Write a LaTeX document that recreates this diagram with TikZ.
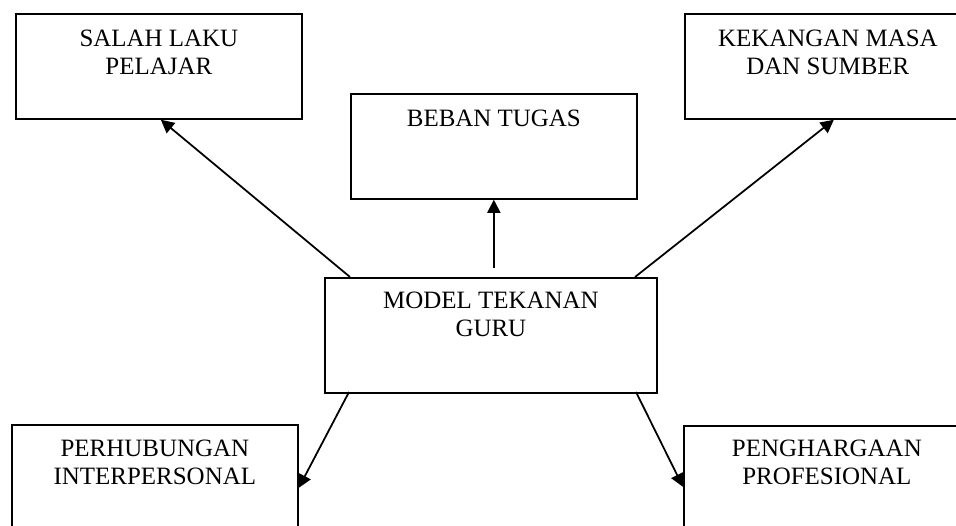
\documentclass[tikz,border=0pt]{standalone}
\usepackage{fontspec}
\setmainfont{Liberation Serif}
\usepackage{tikz}
\usetikzlibrary{positioning, arrows.meta}

\begin{document}
\begin{tikzpicture}[x=0.02cm, y=-0.02cm,
	box/.style={draw, line width=1pt, minimum width=5.72cm, minimum height=2.1cm, inner sep=0pt, anchor=north west},
	lbl/.style={inner sep=0pt, align=center, font=\fontsize{14.2}{16}\selectfont},
	arr/.style={line width=1pt, -{Triangle[length=7.5pt, width=7.5pt]}}]
		\useasboundingbox (0,0) rectangle (956,525);
		\clip (0,0) rectangle (956,525);
		
		\node [box] (pelajar) at (15,13) {};
		\node [box] (beban) at (350,93) {};
		\node [box] (masa) at (684,13) {};
		\node [box, minimum width=6.64cm, minimum height=2.3cm] (guru) at (324,277) {};
		\node [box] (interpersonal) at (11,424) {};
		\node [box] (profesional) at (683,425) {};
		
		\node [lbl, below=0.34cm of pelajar.north] (pelajarT) {SALAH LAKU\\PELAJAR};
		\node [lbl, below=0.34cm of beban.north] (bebanT) {BEBAN TUGAS};
		\node [lbl, below=0.34cm of masa.north] (masaT) {KEKANGAN MASA\\DAN SUMBER};
		\node [lbl, below=0.3cm of guru.north] (guruT) {MODEL TEKANAN\\GURU};
		\node [lbl, below=0.32cm of interpersonal.north] (interpersonalT) {PERHUBUNGAN\\INTERPERSONAL};
		\node [lbl, below=0.3cm of profesional.north] (profesionalT) {PENGHARGAAN\\PROFESIONAL};
		
		\coordinate (g1) at (350,277);
		\coordinate (g2) at (493,268);
		\coordinate (g3) at (635,277);
		\coordinate (g4) at (349,392);
		\coordinate (g5) at (636,392);
		
		\draw [arr] (g1) -- ([xshift=0.04cm]pelajar.south);
		\draw [arr] (beban.south |- g2) -- (beban.south);
		\draw [arr] (g3) -- ([xshift=0.12cm]masa.south);
		\draw [arr] (g4) -- ([yshift=-0.21cm]interpersonal.east);
		\draw [arr] (g5) -- ([yshift=-0.17cm]profesional.west);
\end{tikzpicture}
\end{document}
